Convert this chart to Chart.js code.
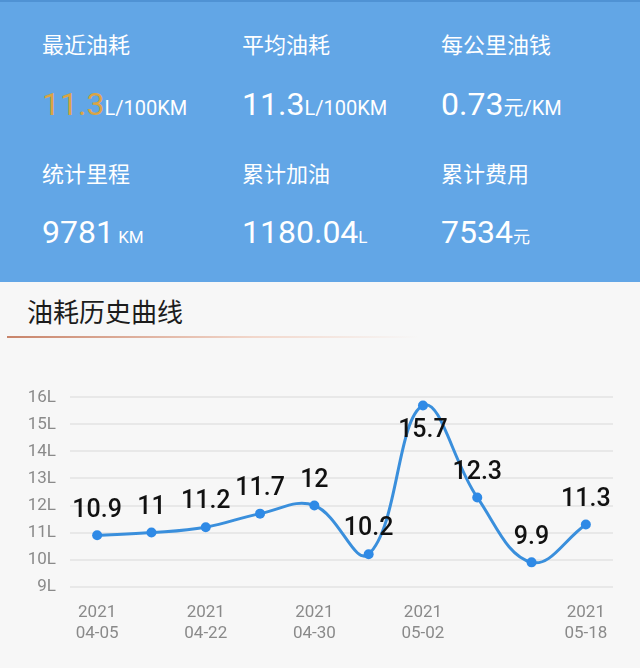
<!DOCTYPE html>
<html lang="zh">
<head>
<meta charset="utf-8">
<title>油耗历史曲线</title>
<script src="https://cdn.jsdelivr.net/npm/chart.js@4.4.1/dist/chart.umd.min.js"></script>
<style>
  html, body { margin: 0; padding: 0; }
  body {
    width: 640px; height: 668px; overflow: hidden; position: relative;
    background: #f7f7f7;
    font-family: Roboto, "Noto Sans CJK SC", sans-serif;
  }
  .panel {
    position: absolute; left: 0; top: 0; width: 640px; height: 282px;
    background: #62a6e6; border-top: 2px solid #4f92d4; box-sizing: border-box;
  }
  .lbl {
    position: absolute; color: #fff; font-size: 22px; line-height: 22px;
    font-family: "Noto Sans CJK SC", sans-serif; white-space: nowrap;
  }
  .val {
    position: absolute; color: #fff; font-size: 32px; line-height: 32px;
    font-family: Roboto, sans-serif; white-space: nowrap;
  }
  .val small { font-size: 20px; }
  .val small.cn { font-family: "Noto Sans CJK SC", sans-serif; }
  .val small.s { font-size: 17px; }
  .val.hot b { color: #dba443; font-weight: normal; }
  .title {
    position: absolute; left: 27px; top: 297px; font-size: 26px; line-height: 28px;
    color: #1c1c1c; font-family: "Noto Sans CJK SC", sans-serif;
  }
  .rule {
    position: absolute; left: 7px; top: 336px; width: 412px; height: 2px;
    background: linear-gradient(to right, #c8846a, rgba(236,176,150,0.45) 60%, rgba(247,247,247,0));
  }
  #wrap { position: absolute; left: 0; top: 360px; width: 640px; height: 308px; }
</style>
</head>
<body>
<div class="panel"></div>
<div class="lbl" style="left:42px;top:32px">最近油耗</div>
<div class="lbl" style="left:242px;top:32px">平均油耗</div>
<div class="lbl" style="left:441px;top:32px">每公里油钱</div>
<div class="val hot" style="left:42px;top:88px"><b>11.3</b><small>L/100KM</small></div>
<div class="val" style="left:242px;top:88px">11.3<small>L/100KM</small></div>
<div class="val" style="left:441px;top:88px">0.73<small class="cn">元</small><small>/KM</small></div>
<div class="lbl" style="left:42px;top:161px">统计里程</div>
<div class="lbl" style="left:242px;top:161px">累计加油</div>
<div class="lbl" style="left:441px;top:161px">累计费用</div>
<div class="val" style="left:42px;top:216px">9781<small class="s"> KM</small></div>
<div class="val" style="left:242px;top:216px">1180.04<small class="s">L</small></div>
<div class="val" style="left:441px;top:216px">7534<small class="s cn">元</small></div>

<div class="title">油耗历史曲线</div>
<div class="rule"></div>

<div id="wrap"><canvas id="fuelChart"></canvas></div>

<script>
// 数据:每次加油的油耗 (L/100KM),只有部分日期显示在横轴上
const dates = [
  ["2021", "04-05"], "", ["2021", "04-22"], "", ["2021", "04-30"],
  "", ["2021", "05-02"], "", "", ["2021", "05-18"],
];
const consumption = [10.9, 11, 11.2, 11.7, 12, 10.2, 15.7, 12.3, 9.9, 11.3];
const yTicks = [9, 10, 11, 12, 13, 14, 15, 16];

// 在每个点上方写数值,最高点写在下方
const pointLabels = {
  id: "pointLabels",
  afterDatasetsDraw(chart) {
    const { ctx } = chart;
    const meta = chart.getDatasetMeta(0);
    const max = Math.max(...consumption);
    ctx.save();
    ctx.font = "500 25px Roboto";
    ctx.fillStyle = "#111";
    ctx.textAlign = "center";
    ctx.textBaseline = "middle";
    meta.data.forEach((pt, i) => {
      const v = consumption[i];
      const dy = v === max ? 25 : -25;
      ctx.fillText(String(v), pt.x, pt.y + dy);
    });
    ctx.restore();
  },
};

new Chart(document.getElementById("fuelChart"), {
  type: "line",
  data: {
    labels: dates,
    datasets: [
      {
        data: consumption,
        borderColor: "#3a8fdc",
        backgroundColor: "#2f8ae6",
        pointBackgroundColor: "#2f8ae6",
        pointBorderWidth: 0,
        pointRadius: 5,
        borderWidth: 3,
        tension: 0.4,
        fill: false,
        clip: false,
      },
    ],
  },
  options: {
    responsive: true,
    maintainAspectRatio: false,
    animation: false,
    layout: { padding: { top: 37.3, right: 27, left: 0, bottom: 0 } },
    plugins: { legend: { display: false }, tooltip: { enabled: false } },
    scales: {
      x: {
        offset: true,
        grid: { display: false },
        border: { display: false },
        ticks: {
          autoSkip: false,
          maxRotation: 0,
          color: "#8a8a8a",
          padding: 8,
          font: { family: "Roboto", size: 17, lineHeight: 1.2 },
        },
        afterFit(scale) { scale.height = 81.3; },
      },
      y: {
        min: 9,
        max: 16,
        afterBuildTicks(scale) { scale.ticks = yTicks.map((v) => ({ value: v })); },
        grid: { color: "#e8e8e8", lineWidth: 2, drawTicks: false },
        border: { display: false },
        ticks: {
          color: "#8a8a8a",
          padding: 14,
          font: { family: "Roboto", size: 17 },
          callback: (v) => v + "L",
        },
        afterFit(scale) { scale.width = 70; },
      },
    },
  },
  plugins: [pointLabels],
});
</script>
</body>
</html>
